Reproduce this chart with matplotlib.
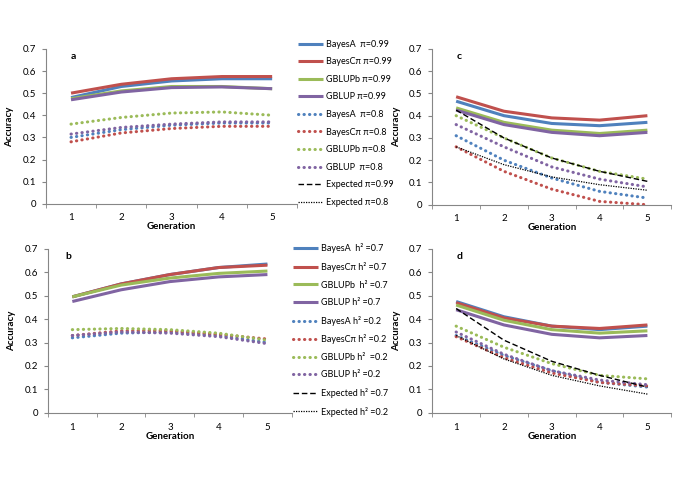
import matplotlib
matplotlib.use("Agg")
import matplotlib.pyplot as plt
from matplotlib.lines import Line2D

plt.rcParams["font.family"] = ["Lato", "DejaVu Sans"]
plt.rcParams["font.size"] = 7

# ---- data ----
gens = [1, 2, 3, 4, 5]
methods = ["BayesA", "BayesCπ", "GBLUPb", "GBLUP"]
colors = ["#4F81BD", "#C0504D", "#9BBB59", "#8064A2"]

# panel a : pi = 0.99 (solid) / pi = 0.8 (dotted)
a_high = [[0.48, 0.53, 0.555, 0.565, 0.565],
          [0.50, 0.54, 0.565, 0.575, 0.575],
          [0.475, 0.51, 0.53, 0.53, 0.52],
          [0.47, 0.505, 0.525, 0.528, 0.52]]
a_low = [[0.30, 0.335, 0.355, 0.365, 0.365],
         [0.28, 0.32, 0.34, 0.35, 0.35],
         [0.36, 0.39, 0.41, 0.415, 0.40],
         [0.315, 0.345, 0.36, 0.37, 0.37]]

# panel b : h2 = 0.7 (solid) / h2 = 0.2 (dotted)
b_high = [[0.495, 0.55, 0.59, 0.62, 0.635],
          [0.495, 0.55, 0.59, 0.62, 0.63],
          [0.495, 0.545, 0.575, 0.595, 0.605],
          [0.475, 0.525, 0.56, 0.58, 0.59]]
b_low = [[0.32, 0.34, 0.345, 0.33, 0.30],
         [0.33, 0.35, 0.35, 0.335, 0.315],
         [0.355, 0.36, 0.355, 0.34, 0.31],
         [0.33, 0.345, 0.34, 0.325, 0.295]]

# panel c
c_high = [[0.465, 0.40, 0.365, 0.355, 0.37],
          [0.485, 0.42, 0.39, 0.38, 0.40],
          [0.435, 0.37, 0.335, 0.32, 0.335],
          [0.425, 0.36, 0.325, 0.31, 0.325]]
c_low = [[0.31, 0.20, 0.12, 0.06, 0.03],
         [0.26, 0.15, 0.07, 0.015, 0.0],
         [0.40, 0.30, 0.21, 0.15, 0.115],
         [0.36, 0.26, 0.17, 0.115, 0.08]]
c_exp_high = [0.425, 0.30, 0.21, 0.15, 0.105]
c_exp_low = [0.26, 0.18, 0.125, 0.09, 0.065]

# panel d
d_high = [[0.475, 0.41, 0.37, 0.355, 0.37],
          [0.47, 0.405, 0.37, 0.36, 0.375],
          [0.46, 0.395, 0.355, 0.34, 0.35],
          [0.44, 0.375, 0.335, 0.32, 0.33]]
d_low = [[0.33, 0.245, 0.18, 0.13, 0.11],
         [0.325, 0.235, 0.17, 0.13, 0.115],
         [0.37, 0.28, 0.21, 0.16, 0.145],
         [0.345, 0.25, 0.18, 0.14, 0.12]]
d_exp_high = [0.445, 0.31, 0.22, 0.16, 0.11]
d_exp_low = [0.33, 0.23, 0.16, 0.115, 0.08]

labels_pi = ["BayesA  π=0.99", "BayesCπ π=0.99", "GBLUPb π=0.99", "GBLUP π=0.99",
             "BayesA  π=0.8", "BayesCπ π=0.8", "GBLUPb π=0.8", "GBLUP  π=0.8",
             "Expected π=0.99", "Expected π=0.8"]
labels_h2 = ["BayesA  h² =0.7", "BayesCπ h² =0.7", "GBLUPb  h² =0.7", "GBLUP h² =0.7",
             "BayesA h² =0.2", "BayesCπ h² =0.2", "GBLUPb h²  =0.2", "GBLUP h² =0.2",
             "Expected h² =0.7", "Expected h² =0.2"]

SOLID = dict(lw=2.2, solid_capstyle="butt")
DOTS = dict(lw=2.2, ls=(0, (0.1, 1.7)), dash_capstyle="round")
EXP_HI = dict(color="black", lw=1.0, ls=(0, (4, 2)))
EXP_LO = dict(color="black", lw=0.9, ls=(0, (1, 1)))


def draw(ax, high, low, letter, exp_high=None, exp_low=None, lx=1.0):
    for vals, c in zip(low, colors):
        ax.plot(gens, vals, color=c, **DOTS)
    for vals, c in zip(high, colors):
        ax.plot(gens, vals, color=c, **SOLID)
    if exp_high is not None:
        ax.plot(gens, exp_high, **EXP_HI)
        ax.plot(gens, exp_low, **EXP_LO)
    ax.set_xlim(0.5, 5.5)
    ax.set_ylim(0, 0.7)
    ax.set_yticks([0, 0.1, 0.2, 0.3, 0.4, 0.5, 0.6, 0.7])
    ax.set_yticklabels(["0", "0.1", "0.2", "0.3", "0.4", "0.5", "0.6", "0.7"])
    ax.set_xticks(gens)
    ax.set_xticks([0.5, 1.5, 2.5, 3.5, 4.5, 5.5], minor=True)
    ax.tick_params(axis="x", which="major", length=0, pad=7)
    ax.tick_params(axis="x", which="minor", length=3, color="#868686")
    ax.tick_params(axis="y", length=3, color="#868686", pad=4)
    for s in ["top", "right"]:
        ax.spines[s].set_visible(False)
    for s in ["left", "bottom"]:
        ax.spines[s].set_color("#868686")
        ax.spines[s].set_linewidth(0.8)
    ax.set_ylabel("Accuracy", fontweight="bold", labelpad=6)
    ax.set_xlabel("Generation", fontweight="bold", labelpad=0)
    ax.text(lx, 0.655, letter, fontweight="bold", fontsize=7.5)


def legend_handles():
    h = []
    for c in colors:
        h.append(Line2D([], [], color=c, **SOLID))
    for c in colors:
        h.append(Line2D([], [], color=c, **DOTS))
    h.append(Line2D([], [], **EXP_HI))
    h.append(Line2D([], [], **EXP_LO))
    return h


fig = plt.figure(figsize=(6.85, 4.84), dpi=100)
ax_a = fig.add_axes([0.067, 0.579, 0.367, 0.320])
ax_c = fig.add_axes([0.631, 0.577, 0.349, 0.322])
ax_b = fig.add_axes([0.070, 0.147, 0.356, 0.339])
ax_d = fig.add_axes([0.631, 0.147, 0.349, 0.339])

draw(ax_a, a_high, a_low, "a")
draw(ax_c, c_high, c_low, "c", c_exp_high, c_exp_low)
draw(ax_b, b_high, b_low, "b", lx=0.86)
draw(ax_d, d_high, d_low, "d", d_exp_high, d_exp_low)

leg_kw = dict(loc="upper left", frameon=False, fontsize=6.5, handlelength=2.8,
              handletextpad=0.3, borderpad=0, borderaxespad=0, labelspacing=0.95)
fig.legend(legend_handles(), labels_pi, bbox_to_anchor=(0.435, 0.918), **leg_kw)
fig.legend(legend_handles(), labels_h2, bbox_to_anchor=(0.428, 0.497), **leg_kw)

fig.savefig("out.png", dpi=100)
